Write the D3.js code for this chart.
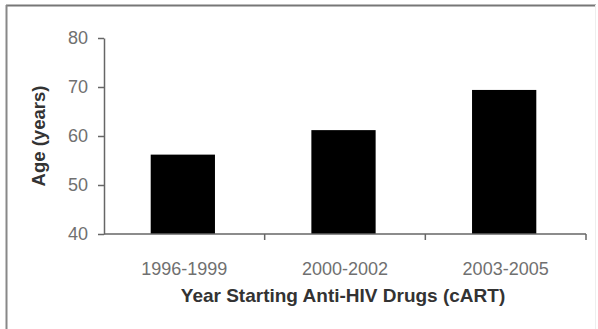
<!DOCTYPE html>
<html><head><meta charset="utf-8">
<script src="https://cdn.jsdelivr.net/npm/d3@7"></script>
<style>body{margin:0;background:#fff}svg{display:block}</style>
</head><body>
<script>
const categories = ["1996-1999", "2000-2002", "2003-2005"];
const ages = [56.2, 61.2, 69.4];
const yTicks = [40, 50, 60, 70, 80];

const W = 598, H = 329;
const m = {l: 104, r: 12, t: 38, b: 95};
const svg = d3.select("body").append("svg").attr("width", W).attr("height", H);

// frame
svg.append("line").attr("x1", 6).attr("x2", 596).attr("y1", 5.5).attr("y2", 5.5).attr("stroke", "#777").attr("stroke-width", 2);
svg.append("line").attr("x1", 6.5).attr("x2", 6.5).attr("y1", 5).attr("y2", H).attr("stroke", "#888").attr("stroke-width", 2);
svg.append("line").attr("x1", 595.5).attr("x2", 595.5).attr("y1", 5).attr("y2", H).attr("stroke", "#eee").attr("stroke-width", 1);

const x = d3.scaleBand().domain(categories).range([m.l, W - m.r]).paddingInner(0.6).paddingOuter(0.3);
const xb = d3.scaleLinear().domain([0, categories.length]).range([m.l, W - m.r]);
const y = d3.scaleLinear().domain([40, 80]).range([H - m.b, m.t]);

// bars
svg.selectAll("rect.bar").data(ages).join("rect")
  .attr("x", (d, i) => x(categories[i]) - 1.5)
  .attr("width", x.bandwidth())
  .attr("y", d => y(d))
  .attr("height", d => y(40) - y(d))
  .attr("fill", "#000");

// y axis
const ya = svg.append("g").attr("transform", `translate(${m.l},0)`)
  .call(d3.axisLeft(y).tickValues(yTicks).tickSize(6).tickPadding(10).tickSizeOuter(0));
ya.select(".domain").attr("stroke", "#666").attr("stroke-width", 1.5);
ya.selectAll(".tick line").attr("stroke", "#666").attr("stroke-width", 1.5);
ya.selectAll("text").attr("font-family", "Liberation Sans, Arial, sans-serif").attr("font-size", 18).attr("fill", "#707070");

// x axis
const xa = svg.append("g").attr("transform", `translate(0,${H - m.b})`);
xa.append("line").attr("x1", m.l).attr("x2", W - m.r).attr("stroke", "#666").attr("stroke-width", 1.5);
xa.selectAll("line.tk").data(d3.range(1, categories.length + 1)).join("line")
  .attr("x1", d => xb(d)).attr("x2", d => xb(d)).attr("y1", 0).attr("y2", 6)
  .attr("stroke", "#666").attr("stroke-width", 1.5);
xa.selectAll("text.lab").data(categories).join("text")
  .attr("x", d => x(d) + x.bandwidth() / 2).attr("y", 41)
  .attr("text-anchor", "middle")
  .attr("font-family", "Liberation Sans, Arial, sans-serif").attr("font-size", 18).attr("fill", "#707070")
  .text(d => d);

// titles
svg.append("text").attr("x", (m.l + W - m.r) / 2 - 2).attr("y", 302).attr("text-anchor", "middle")
  .attr("font-family", "Liberation Sans, Arial, sans-serif").attr("font-size", 19).attr("font-weight", "bold").attr("fill", "#333")
  .text("Year Starting Anti-HIV Drugs (cART)");
svg.append("text").attr("transform", `translate(45,${(m.t + H - m.b) / 2}) rotate(-90)`).attr("text-anchor", "middle")
  .attr("font-family", "Liberation Sans, Arial, sans-serif").attr("font-size", 18.5).attr("font-weight", "bold").attr("fill", "#333")
  .text("Age (years)");
</script>
</body></html>
